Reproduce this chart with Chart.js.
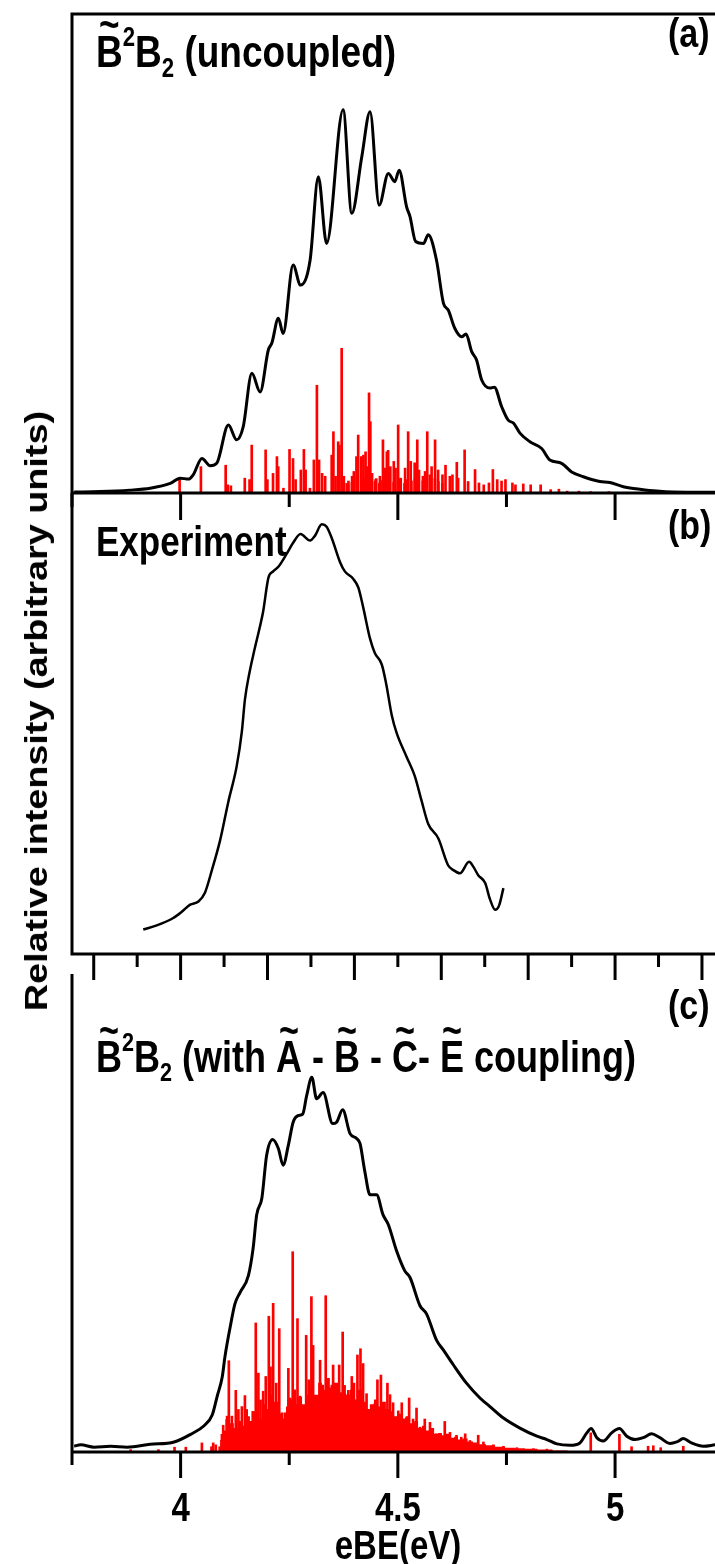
<!DOCTYPE html>
<html>
<head>
<meta charset="utf-8">
<script src="https://cdn.jsdelivr.net/npm/chart.js@4.4.1/dist/chart.umd.min.js"></script>
<style>
  html, body { margin:0; padding:0; background:#fff; overflow:hidden; }
  #wrap { position:relative; width:715px; height:1564px; font-family:'Liberation Sans', Arial, sans-serif; font-weight:bold; color:#000; }
  #wrap canvas { position:absolute; left:0; }
  .lbl { position:absolute; white-space:nowrap; line-height:1; transform-origin:0 0; transform:scaleY(1.22); }
  .tick { position:absolute; white-space:nowrap; line-height:1; font-size:33px; transform-origin:0 0; transform:translateX(-50%) scaleY(1.25); }
  .tb { position:relative; display:inline-block; }
  .tt { position:absolute; left:0; right:0; text-align:center; top:-0.62em; font-size:0.95em; }
  .sp { font-size:0.6em; position:relative; top:-0.78em; }
  .sb { font-size:0.6em; position:relative; top:0.38em; }
  #ytitle { position:absolute; left:36px; top:711px; width:0; height:0; transform:scaleY(1.18) rotate(-90deg); }
  #ytitle span { position:absolute; left:0; top:0; transform:translate(-50%,-50%); white-space:nowrap; font-size:32px; line-height:1; }
</style>
</head>
<body>
<div id="wrap">
  <canvas id="chartA" width="715" height="522" style="top:0"></canvas>
  <canvas id="chartB" width="715" height="530" style="top:480px"></canvas>
  <canvas id="chartC" width="715" height="564" style="top:960px"></canvas>

  <div class="lbl" style="left:96px;top:29px;font-size:37px"><span class="tb">B<span class="tt">~</span></span><span class="sp">2</span>B<span class="sb">2</span> (uncoupled)</div>
  <div class="lbl" style="left:668px;top:12px;font-size:34px">(a)</div>
  <div class="lbl" style="left:96px;top:519px;font-size:35px">Experiment</div>
  <div class="lbl" style="left:668px;top:504px;font-size:34px">(b)</div>
  <div class="lbl" style="left:668px;top:984px;font-size:34px">(c)</div>
  <div class="lbl" style="left:96px;top:1035px;font-size:36px"><span class="tb">B<span class="tt">~</span></span><span class="sp">2</span>B<span class="sb">2</span> (with <span class="tb">A<span class="tt">~</span></span> - <span class="tb">B<span class="tt">~</span></span> - <span class="tb">C<span class="tt">~</span></span>- <span class="tb">E<span class="tt">~</span></span> coupling)</div>
  <div id="ytitle"><span>Relative intensity (arbitrary units)</span></div>
  <div id="xlabels"></div>
  <div class="tick" style="left:398px;top:1524px">eBE(eV)</div>
</div>

<script>
// eV range shown on all three panels
const xMin = 3.75;
const xMax = 5.23;

// tick marks
const ticksAC = [3.75, 4, 4.25, 4.5, 4.75, 5];
const ticksB = [3.8, 3.9, 4.0, 4.1, 4.2, 4.3, 4.4, 4.5, 4.6, 4.7, 4.8, 4.9, 5.0, 5.1, 5.2];
const tickLabelValues = [4, 4.5, 5];
const tickLabels = ['4', '4.5', '5'];

// (a) uncoupled: convoluted spectrum
const aCurveX = [3.755,3.814,3.883,3.930,3.976,3.999,4.018,4.029,4.049,4.068,4.083,4.110,4.129,4.144,4.164,4.183,4.202,4.210,4.225,4.236,4.259,4.276,4.298,4.317,4.336,4.374,4.394,4.417,4.436,4.457,4.478,4.493,4.503,4.520,4.528,4.541,4.559,4.570,4.589,4.605,4.616,4.631,4.647,4.657,4.670,4.681,4.693,4.712,4.722,4.739,4.754,4.766,4.781,4.804,4.831,4.850,4.877,4.900,4.927,4.965,4.988,5.019,5.057,5.096,5.134,5.230];
const aCurveY = [0.2,0.3,0.6,1.0,2.0,3.1,2.9,3.8,7.2,5.7,6.2,14.2,11.1,13.8,25.0,21.1,29.9,31.3,36.5,33.3,47.6,43.4,48.6,66.0,52.1,80.0,58.4,70.2,79.6,60.1,66.7,65.0,67.4,59.8,57.7,52.5,52.1,53.9,48.6,39.6,38.2,34.4,32.6,33.2,29.5,27.8,23.6,21.9,22.1,18.0,15.2,14.6,12.5,10.7,9.3,6.9,6.2,4.4,3.4,2.4,2.2,1.3,0.8,0.4,0.2,0.15];

// (a) stick spectrum
const aStickX = [4.000,4.049,4.106,4.111,4.118,4.150,4.161,4.166,4.198,4.202,4.215,4.224,4.227,4.239,4.253,4.261,4.267,4.279,4.286,4.290,4.300,4.309,4.316,4.321,4.328,4.335,4.350,4.354,4.359,4.365,4.368,4.373,4.378,4.388,4.397,4.401,4.407,4.411,4.418,4.423,4.428,4.432,4.436,4.439,4.443,4.451,4.461,4.468,4.473,4.477,4.480,4.485,4.493,4.497,4.503,4.509,4.519,4.526,4.532,4.541,4.547,4.551,4.560,4.565,4.570,4.576,4.580,4.588,4.595,4.605,4.612,4.622,4.628,4.638,4.641,4.656,4.664,4.680,4.689,4.700,4.712,4.721,4.731,4.741,4.750,4.766,4.773,4.791,4.808,4.831,4.854,4.873,4.892,4.919,4.946,4.988];
const aStickY = [3.1,5.5,5.8,1.7,1.5,3.1,2.8,10.0,9.0,2.8,4.1,7.6,5.5,1.0,9.1,7.2,2.8,4.8,9.1,4.8,1.0,6.9,22.5,6.9,4.1,3.5,7.9,12.8,3.5,10.7,10.0,30.2,3.5,1.7,3.5,4.5,7.6,12.1,7.6,7.9,8.6,5.5,20.9,14.9,4.1,2.8,3.5,11.1,5.2,8.6,8.9,5.5,6.6,5.2,14.2,3.1,5.2,12.8,6.6,6.3,11.1,4.8,3.5,4.5,12.8,3.8,5.5,11.1,4.8,3.8,5.8,3.5,3.8,6.4,3.1,9.0,2.4,4.9,2.1,1.7,2.1,4.9,2.8,2.5,2.8,2.1,1.7,1.9,1.7,1.7,0.7,0.8,0.4,0.4,0.3,0.3];
const aSmallX = [4.380,4.384,4.392,4.404,4.414,4.420,4.426,4.445,4.448,4.455,4.458,4.465,4.488,4.500,4.513,4.516,4.529,4.537,4.544,4.555,4.583,4.591,4.600];
const aSmallY = [2.0,2.5,2.2,3.0,2.6,3.2,2.9,2.4,3.0,2.0,2.6,3.0,2.2,3.0,2.0,2.8,2.5,3.0,2.2,2.5,3.0,2.4,2.0];

// (b) experiment
const bCurveX = [3.914,3.945,3.983,4.002,4.022,4.041,4.056,4.072,4.091,4.110,4.129,4.141,4.148,4.158,4.169,4.183,4.190,4.202,4.213,4.225,4.244,4.259,4.276,4.298,4.309,4.325,4.336,4.348,4.367,4.378,4.397,4.409,4.420,4.436,4.447,4.463,4.473,4.486,4.497,4.520,4.539,4.555,4.570,4.593,4.616,4.628,4.643,4.664,4.674,4.685,4.701,4.712,4.724,4.733,4.743];
const bCurveY = [5.3,6.2,7.8,9.1,10.7,11.4,13.3,18.2,24.7,33.1,40.7,48.3,55.2,60.8,65.6,71.2,74.3,81.6,83.0,84.0,86.8,89.2,91.1,89.7,90.7,93.2,92.7,90.2,85.0,83.0,81.4,79.5,75.3,68.4,65.3,62.8,58.7,51.8,48.0,42.8,38.6,33.1,28.2,25.1,19.2,18.2,17.5,20.0,18.9,17.1,15.4,11.9,9.6,10.5,14.3];

// (c) coupled: convoluted spectrum
const cCurveX = [3.755,3.770,3.801,3.839,3.877,3.930,3.985,4.023,4.054,4.073,4.084,4.096,4.102,4.114,4.125,4.137,4.156,4.167,4.175,4.187,4.198,4.212,4.225,4.236,4.248,4.259,4.271,4.281,4.290,4.302,4.313,4.328,4.350,4.359,4.373,4.390,4.405,4.413,4.424,4.436,4.451,4.466,4.478,4.497,4.516,4.528,4.551,4.566,4.589,4.605,4.628,4.658,4.689,4.712,4.743,4.781,4.820,4.843,4.866,4.896,4.919,4.935,4.945,4.958,4.973,4.992,5.010,5.027,5.046,5.065,5.084,5.103,5.126,5.142,5.157,5.176,5.203,5.230];
const cCurveY = [1.2,1.5,1.0,1.2,1.0,1.6,2.1,3.7,5.5,7.8,11.6,15.8,19.9,26.1,31.0,33.4,36.9,42.7,49.6,53.1,62.1,65.4,63.5,60.0,64.2,69.0,70.4,70.7,74.5,78.4,73.9,75.2,68.7,69.0,71.6,66.6,65.6,64.5,58.7,53.8,53.8,49.6,47.6,42.1,37.9,36.5,30.6,28.9,23.4,21.3,18.2,14.4,11.3,9.5,7.1,5.0,3.3,2.6,1.7,1.4,1.9,4.0,4.9,3.0,2.3,4.0,4.9,3.3,2.6,3.0,3.8,3.0,1.8,2.1,2.8,1.9,1.2,1.5];

// (c) stick spectrum (tallest lines) and the dense low lines underneath
const cStickX = [3.885,3.949,3.986,4.012,4.049,4.071,4.075,4.081,4.090,4.095,4.098,4.106,4.107,4.111,4.118,4.127,4.133,4.141,4.148,4.152,4.166,4.173,4.179,4.184,4.190,4.196,4.203,4.207,4.213,4.220,4.227,4.233,4.240,4.248,4.252,4.258,4.263,4.269,4.275,4.282,4.289,4.295,4.301,4.305,4.313,4.321,4.327,4.334,4.340,4.348,4.351,4.358,4.365,4.373,4.378,4.386,4.394,4.399,4.407,4.414,4.420,4.428,4.436,4.447,4.453,4.461,4.470,4.476,4.482,4.489,4.501,4.509,4.520,4.526,4.535,4.543,4.551,4.562,4.574,4.588,4.597,4.608,4.620,4.635,4.646,4.655,4.666,4.685,4.697,4.720,4.743,4.774,4.812,4.843,4.944,5.010,5.038,5.076,5.088,5.105,5.157];
const cStickY = [0.5,0.5,1.0,1.0,1.9,1.1,1.9,1.5,1.1,3.7,5.6,6.8,7.5,19.1,7.5,12.9,8.9,9.5,11.8,8.9,8.5,27.0,16.5,10.9,12.7,15.8,28.4,17.8,31.1,14.4,25.8,8.2,8.2,17.5,11.3,41.9,13.0,27.9,11.7,9.3,24.4,15.1,32.5,22.3,9.3,19.2,14.0,32.7,13.0,14.0,18.2,10.1,18.2,25.1,12.2,12.9,15.8,14.4,20.3,21.6,18.5,12.2,8.0,10.1,15.1,16.1,8.6,14.4,12.0,10.3,8.6,10.3,7.3,11.3,6.9,9.2,5.2,6.9,6.2,3.8,3.5,6.4,4.1,3.5,3.1,3.8,2.4,3.5,2.1,1.5,1.2,0.9,0.7,0.6,4.0,3.7,1.1,1.2,1.3,0.9,1.2];
const cFloorX = [4.088,4.094,4.100,4.109,4.118,4.127,4.137,4.146,4.155,4.164,4.173,4.183,4.192,4.201,4.210,4.220,4.229,4.238,4.247,4.256,4.266,4.275,4.284,4.293,4.302,4.312,4.321,4.330,4.339,4.348,4.358,4.367,4.376,4.385,4.394,4.404,4.413,4.422,4.431,4.440,4.450,4.459,4.468,4.477,4.486,4.496,4.505,4.514,4.523,4.533,4.542,4.551,4.560,4.569,4.579,4.588,4.597,4.606,4.615,4.625,4.634,4.643,4.655,4.666,4.680,4.694,4.712,4.735,4.758,4.781,4.804,4.839,4.873,4.908,4.931];
const cFloorY = [0,2.5,4.5,4.0,6.0,5.0,6.5,5.5,7.5,6.5,8.5,7.0,10.0,9.0,12.0,10.5,8.0,7.0,9.5,11.0,10.0,11.5,10.0,12.0,13.5,12.0,14.5,13.0,15.5,13.5,14.5,12.5,14.0,12.0,13.0,11.0,13.0,10.5,9.0,10.0,11.0,9.5,10.5,9.0,8.5,7.5,8.0,7.0,7.5,6.0,6.5,5.0,5.5,4.5,5.0,3.8,4.0,3.5,3.8,3.0,3.2,2.6,2.8,2.2,2.0,1.6,1.4,1.1,0.9,0.8,0.7,0.5,0.3,0.1,0];

const pts = (xs, ys) => xs.map((x, i) => ({ x, y: ys[i] }));

// axis line, left border and tick marks, drawn from the chart's x scale
const framePlugin = {
  id: 'frame',
  afterDraw(chart, args, o) {
    const { ctx, chartArea: ca, scales: { x } } = chart;
    ctx.save();
    ctx.strokeStyle = '#000';
    ctx.lineWidth = 3;
    ctx.beginPath();
    ctx.moveTo(ca.left - 1.5, ca.bottom);
    ctx.lineTo(ca.right, ca.bottom);
    ctx.moveTo(ca.left, ca.bottom);
    ctx.lineTo(ca.left, ca.top - (o.top ? 1.5 : 0));
    if (o.top) {
      ctx.moveTo(ca.left - 1.5, ca.top);
      ctx.lineTo(ca.right, ca.top);
    }
    o.ticks.forEach(v => {
      const px = x.getPixelForValue(v);
      const major = Math.abs(v / o.majorStep - Math.round(v / o.majorStep)) < 1e-6;
      ctx.moveTo(px, ca.bottom);
      ctx.lineTo(px, ca.bottom + (major ? o.long : o.short));
    });
    ctx.stroke();
    ctx.restore();
  }
};

function curve(data, width) {
  return { type: 'line', data, borderColor: '#000', borderWidth: width, pointRadius: 0,
           cubicInterpolationMode: 'monotone', fill: false, order: 0 };
}
function sticks(data) {
  return { type: 'bar', data, backgroundColor: '#ff0000', borderWidth: 0, barThickness: 2, order: 1 };
}

function makePanel(id, datasets, pad, frame) {
  return new Chart(document.getElementById(id), {
    type: 'line',
    data: { datasets },
    plugins: [framePlugin],
    options: {
      responsive: false,
      animation: false,
      events: [],
      devicePixelRatio: 1,
      layout: { padding: pad },
      plugins: { legend: { display: false }, tooltip: { enabled: false }, frame },
      scales: {
        x: { type: 'linear', min: xMin, max: xMax, offset: false, display: false },
        y: { type: 'linear', min: 0, max: 100, display: false }
      }
    }
  });
}

makePanel('chartA', [
  curve(pts(aCurveX, aCurveY), 3),
  sticks(pts(aStickX, aStickY)),
  sticks(pts(aSmallX, aSmallY))
], { left: 72, right: 0, top: 14, bottom: 29 }, { ticks: ticksAC, majorStep: 0.5, long: 27, short: 14, top: true });

makePanel('chartB', [
  curve(pts(bCurveX, bCurveY), 2.5)
], { left: 72, right: 0, top: 13, bottom: 56 }, { ticks: ticksB, majorStep: 0.2, long: 26, short: 13, top: false });

const chartC = makePanel('chartC', [
  curve(pts(cCurveX, cCurveY), 3),
  sticks(pts(cStickX, cStickY)),
  { type: 'line', data: pts(cFloorX, cFloorY), borderWidth: 0, borderColor: 'rgba(0,0,0,0)',
    backgroundColor: '#ff0000', fill: 'origin', pointRadius: 0, stepped: 'middle', order: 2 }
], { left: 72, right: 0, top: 14, bottom: 72 }, { ticks: ticksAC, majorStep: 0.5, long: 26, short: 13, top: false });

// tick labels under panel (c), placed with the chart's x scale
const xl = document.getElementById('xlabels');
tickLabelValues.forEach((v, i) => {
  const d = document.createElement('div');
  d.className = 'tick';
  d.style.left = chartC.scales.x.getPixelForValue(v) + 'px';
  d.style.top = '1486px';
  d.textContent = tickLabels[i];
  xl.appendChild(d);
});
</script>
</body>
</html>
